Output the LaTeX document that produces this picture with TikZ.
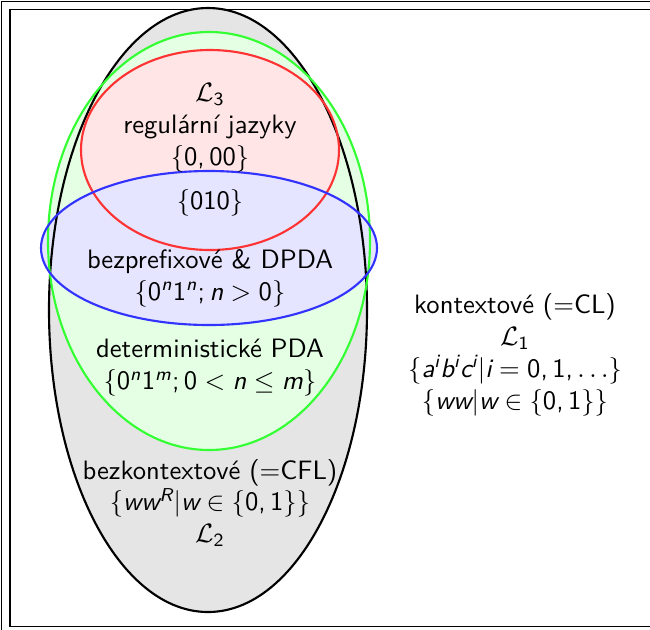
\documentclass[tikz,border=0pt]{standalone}
\usetikzlibrary{positioning}
% sans letters and digits in math
\DeclareSymbolFont{sfletters}{TU}{lmss}{m}{sl}
\DeclareSymbolFont{sfdigits}{TU}{lmss}{m}{n}
\DeclareMathSymbol{a}{\mathalpha}{sfletters}{`a}
\DeclareMathSymbol{b}{\mathalpha}{sfletters}{`b}
\DeclareMathSymbol{c}{\mathalpha}{sfletters}{`c}
\DeclareMathSymbol{i}{\mathalpha}{sfletters}{`i}
\DeclareMathSymbol{m}{\mathalpha}{sfletters}{`m}
\DeclareMathSymbol{n}{\mathalpha}{sfletters}{`n}
\DeclareMathSymbol{w}{\mathalpha}{sfletters}{`w}
\DeclareMathSymbol{R}{\mathalpha}{sfletters}{`R}
\DeclareMathSymbol{0}{\mathalpha}{sfdigits}{`0}
\DeclareMathSymbol{1}{\mathalpha}{sfdigits}{`1}
\DeclareMathSymbol{2}{\mathalpha}{sfdigits}{`2}
\DeclareMathSymbol{3}{\mathalpha}{sfdigits}{`3}
\DeclareMathSymbol{,}{\mathpunct}{sfdigits}{`,}
\DeclareMathSymbol{;}{\mathpunct}{sfdigits}{`;}
\begin{document}
\begin{tikzpicture}[x=0.3759pt, y=-0.3759pt,
    % Set styles
    cfl/.style={draw=black, thick},
    dcfl/.style={draw=green!80, thick},
    reg/.style={draw=red!80, thick},
    pref/.style={draw=blue!80, thick},
    frame/.style={line width=0.7pt},
    lbl/.style={align=center, font=\sffamily}
]
\useasboundingbox (0,0) rectangle (650,629);
% Frame
\draw[frame] (1.5,1.5) rectangle (700,700);
\draw[frame] (10,9.5) rectangle (700,626.5);
% Fills
\fill[black!10] (208,310) ellipse (159 and 302);
\fill[green!10] (209,241) ellipse (161 and 209);
\fill[red!10] (210,150) ellipse (129 and 100);
\fill[blue!10] (209,248) ellipse (168 and 77);
% Outlines
\draw[cfl] (208,310) ellipse (159 and 302);
\draw[dcfl] (209,241) ellipse (161 and 209);
\draw[reg] (210,150) ellipse (129 and 100);
\draw[pref] (209,248) ellipse (168 and 77);
% Labels
\node[lbl] (regtxt) at (210,128) {$\mathcal{L}_3$\\regulární jazyky\\$\{0,00\}$};
\node[lbl] (both) at (210,203) {$\{010\}$};
\node[lbl] (preftxt) at (210,278) {bezprefixové \& DPDA\\$\{0^n1^n; n>0\}$};
\node[lbl] (dettxt) at (210,368) {deterministické PDA\\$\{0^n1^m; 0<n\le m\}$};
\node[lbl] (cfltxt) at (210,503) {bezkontextové ($=$CFL)\\$\{ww^R|w\in\{0,1\}\}$\\$\mathcal{L}_2$};
\node[lbl] (cltxt) at (515,355) {kontextové ($=$CL)\\$\mathcal{L}_1$\\$\{a^ib^ic^i|i=0,1,\ldots\}$\\$\{ww|w\in\{0,1\}\}$};
\end{tikzpicture}
\end{document}
